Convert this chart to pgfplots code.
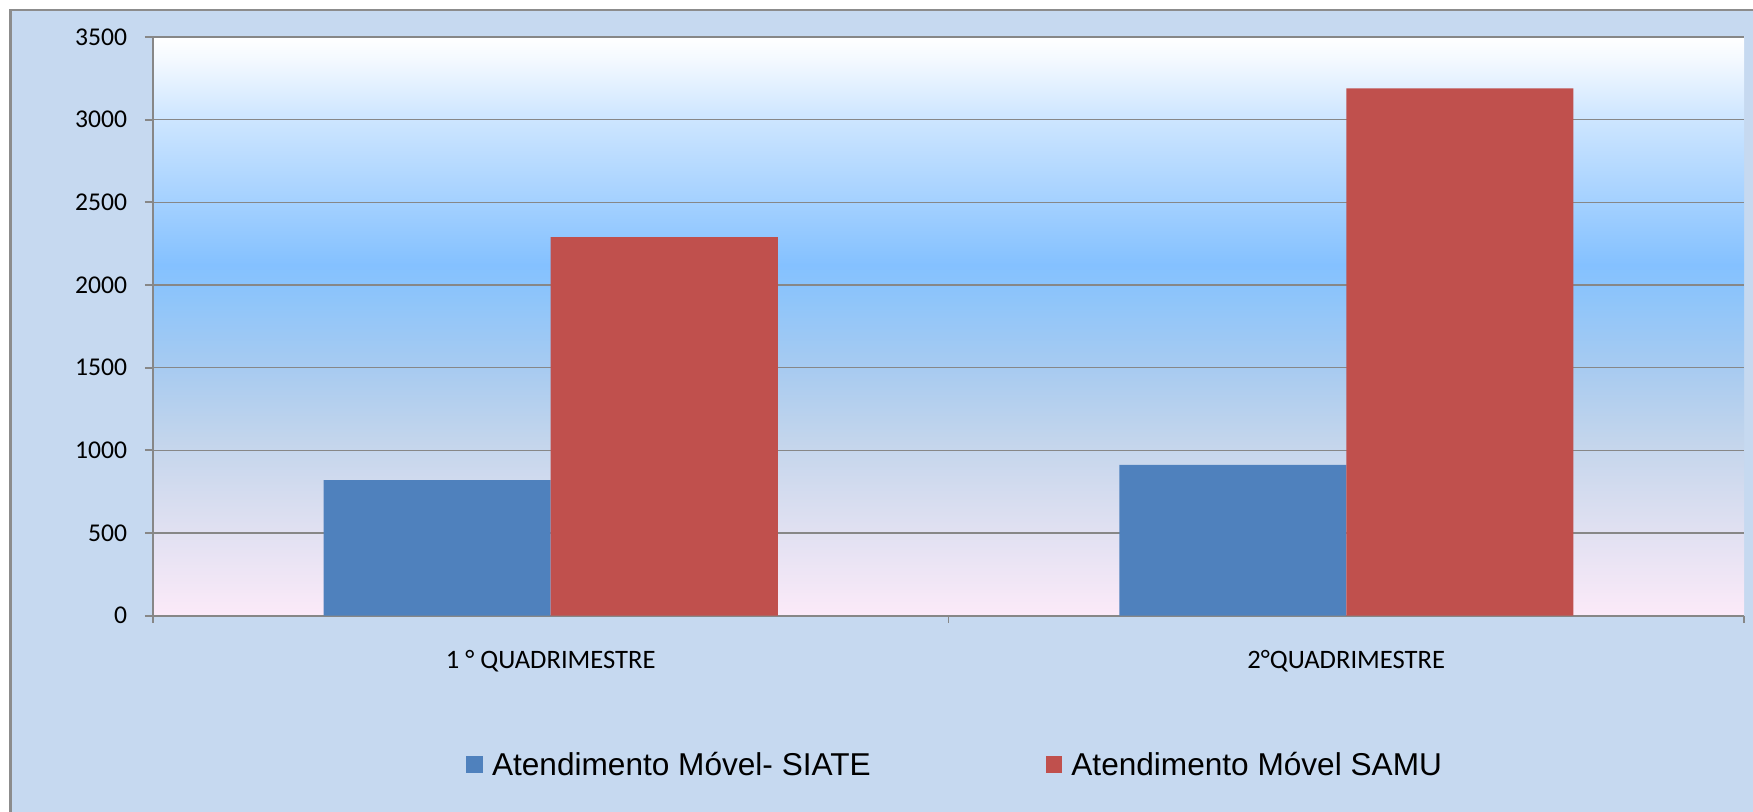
\documentclass[border=0pt]{standalone}
\usepackage{fontspec}
\setmainfont{Carlito}
\newfontfamily\legfont{Liberation Sans}
\usepackage{pgfplots}
\pgfplotsset{compat=1.18}
\definecolor{framebg}{HTML}{C6D9F0}
\definecolor{framegray}{HTML}{8C8C8C}
\definecolor{gridgray}{HTML}{878787}
\definecolor{barblue}{HTML}{4F81BD}
\definecolor{barred}{HTML}{C0504D}
\definecolor{s00}{HTML}{FCEAF8}
\definecolor{s01}{HTML}{EAE4F4}
\definecolor{s02}{HTML}{DADEF0}
\definecolor{s03}{HTML}{C3D5EC}
\definecolor{s04}{HTML}{A8CBF0}
\definecolor{s05}{HTML}{8FC5FA}
\definecolor{s06}{HTML}{84C1FF}
\definecolor{s07}{HTML}{AFD6FF}
\definecolor{s08}{HTML}{D2E8FF}
\definecolor{s09}{HTML}{F4F9FF}
\definecolor{s10}{HTML}{FFFFFF}
\pgfdeclareverticalshading{plotbg}{100bp}{color(0bp)=(s00); color(25bp)=(s00); color(29.8bp)=(s01); color(34.1bp)=(s02); color(40.15bp)=(s03); color(46.25bp)=(s04); color(52.3bp)=(s05); color(55.3bp)=(s06); color(62.65bp)=(s07); color(68.7bp)=(s08); color(73.1bp)=(s09); color(75bp)=(s10); color(100bp)=(s10)}
\begin{document}
\begin{tikzpicture}
\useasboundingbox (-76.5pt,-98.15pt) rectangle (800pt,307.85pt);
\fill[white] (-76.5pt,-98.15pt) rectangle (800pt,307.85pt);
\fill[framebg] (-71.25pt,-99pt) rectangle (801pt,302.85pt);
\draw[framegray, line width=1.4pt] (-71.25pt,-99pt) -- (-71.25pt,302.85pt) -- (801pt,302.85pt);
\begin{axis}[
  at={(0pt,0pt)}, anchor=south west,
  scale only axis, width=795.5pt, height=289.35pt,
  xmin=0.5, xmax=2.5, ymin=0, ymax=3500,
  ytick={0,500,...,3500},
  xtick={1,2},
  xticklabels={1 ° QUADRIMESTRE, 2°QUADRIMESTRE},
  minor xtick={0.5,1.5,2.5},
  axis lines*=left,
  tick align=outside,
  major tick length=4pt,
  minor tick length=3.5pt,
  major x tick style={draw=none},
  ymajorgrids,
  grid style={draw=gridgray, line width=0.75pt},
  axis line style={draw=gridgray, line width=1pt},
  tick style={draw=gridgray, line width=0.9pt},
  ybar=0pt, bar width=113.5pt,
  /pgf/number format/1000 sep={},
  /pgf/number format/assume math mode=true,
  yticklabel style={font=\fontsize{12.8}{14}\selectfont, anchor=east, inner sep=0pt, xshift=-8.75pt},
  xticklabel style={font=\fontsize{13.3}{15}\selectfont, anchor=base, inner sep=0pt, yshift=-22.35pt},
  axis background/.style={shading=plotbg},
  legend columns=2,
  legend style={draw=none, fill=none, at={(0.197,-0.2575)}, anchor=west,
    inner sep=0pt, outer sep=0pt,
    font=\legfont\fontsize{15.8}{18}\selectfont,
    cells={anchor=base west},
    nodes={inner sep=0pt, text depth=0pt, text height=11pt},
    /tikz/every odd column/.append style={column sep=4.5pt},
    /tikz/every even column/.append style={column sep=87.5pt}},
]
\addplot[fill=barblue, draw=none,
  legend image code/.code={\fill[barblue] (0pt,1.5pt) rectangle (8.3pt,9.85pt);}]
  coordinates {(1,820) (2,912)};
\addplot[fill=barred, draw=none,
  legend image code/.code={\fill[barred] (0pt,1.5pt) rectangle (8.3pt,9.85pt);}]
  coordinates {(1,2290) (2,3190)};
\legend{Atendimento Móvel- SIATE, Atendimento Móvel SAMU}
\end{axis}
\end{tikzpicture}
\end{document}
